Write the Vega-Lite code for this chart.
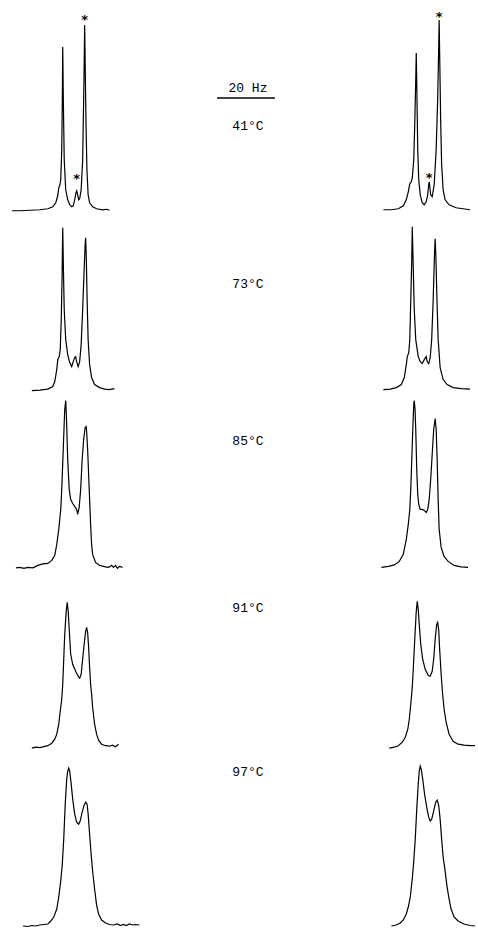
{
"$schema":"https://vega.github.io/schema/vega-lite/v6.json",
"width":478,"height":929,"autosize":{"type":"fit","contains":"padding"},"padding":0,
"background":"white",
"config":{"view":{"stroke":null}},
"datasets":{
"traces":[
{"t":"41e","x":12,"y":211},{"t":"41e","x":20,"y":211},{"t":"41e","x":30,"y":210.5},{"t":"41e","x":40,"y":210},{"t":"41e","x":48,"y":209},{"t":"41e","x":53,"y":207},{"t":"41e","x":56,"y":203},{"t":"41e","x":58,"y":196},{"t":"41e","x":59,"y":188},{"t":"41e","x":60,"y":186},{"t":"41e","x":61,"y":180},{"t":"41e","x":62,"y":150},{"t":"41e","x":62.6,"y":100},{"t":"41e","x":63,"y":47},{"t":"41e","x":63.6,"y":100},{"t":"41e","x":64.5,"y":160},{"t":"41e","x":66,"y":190},{"t":"41e","x":68,"y":200},{"t":"41e","x":70,"y":205},{"t":"41e","x":72,"y":207},{"t":"41e","x":73.5,"y":206},{"t":"41e","x":75,"y":200},{"t":"41e","x":76.3,"y":193},{"t":"41e","x":77,"y":191},{"t":"41e","x":77.8,"y":194},{"t":"41e","x":79,"y":200},{"t":"41e","x":80,"y":199},{"t":"41e","x":81.5,"y":190},{"t":"41e","x":83,"y":160},{"t":"41e","x":84,"y":100},{"t":"41e","x":84.6,"y":60},{"t":"41e","x":85,"y":25},{"t":"41e","x":85.5,"y":60},{"t":"41e","x":86.3,"y":120},{"t":"41e","x":87.3,"y":170},{"t":"41e","x":88.5,"y":195},{"t":"41e","x":90,"y":203},{"t":"41e","x":93,"y":207},{"t":"41e","x":97,"y":209},{"t":"41e","x":103,"y":210},{"t":"41e","x":107,"y":209.5},{"t":"41e","x":110,"y":210.5},
{"t":"41s","x":385,"y":210},{"t":"41s","x":393,"y":210},{"t":"41s","x":400,"y":209},{"t":"41s","x":405,"y":206},{"t":"41s","x":408,"y":200},{"t":"41s","x":410,"y":192},{"t":"41s","x":411.5,"y":184},{"t":"41s","x":413,"y":182},{"t":"41s","x":414,"y":178},{"t":"41s","x":415.5,"y":160},{"t":"41s","x":416.6,"y":120},{"t":"41s","x":417.5,"y":80},{"t":"41s","x":418,"y":53},{"t":"41s","x":418.6,"y":90},{"t":"41s","x":419.5,"y":150},{"t":"41s","x":420.5,"y":180},{"t":"41s","x":422,"y":195},{"t":"41s","x":424,"y":203},{"t":"41s","x":426,"y":205},{"t":"41s","x":428,"y":202},{"t":"41s","x":429.5,"y":195},{"t":"41s","x":430.5,"y":185},{"t":"41s","x":431,"y":182},{"t":"41s","x":431.6,"y":187},{"t":"41s","x":432.5,"y":195},{"t":"41s","x":434,"y":197},{"t":"41s","x":436,"y":185},{"t":"41s","x":438,"y":150},{"t":"41s","x":439.5,"y":100},{"t":"41s","x":440.5,"y":50},{"t":"41s","x":441,"y":20},{"t":"41s","x":441.6,"y":60},{"t":"41s","x":442.5,"y":120},{"t":"41s","x":443.5,"y":165},{"t":"41s","x":445,"y":190},{"t":"41s","x":447,"y":200},{"t":"41s","x":451,"y":205},{"t":"41s","x":458,"y":208},{"t":"41s","x":465,"y":209},{"t":"41s","x":472,"y":210},
{"t":"73e","x":32,"y":391},{"t":"73e","x":40,"y":390.5},{"t":"73e","x":48,"y":389.5},{"t":"73e","x":53,"y":387},{"t":"73e","x":55,"y":382},{"t":"73e","x":57,"y":370},{"t":"73e","x":58,"y":360},{"t":"73e","x":59.5,"y":357},{"t":"73e","x":60.5,"y":350},{"t":"73e","x":61.5,"y":320},{"t":"73e","x":62.3,"y":280},{"t":"73e","x":63,"y":228},{"t":"73e","x":63.7,"y":270},{"t":"73e","x":64.5,"y":310},{"t":"73e","x":66,"y":340},{"t":"73e","x":68,"y":355},{"t":"73e","x":70,"y":363},{"t":"73e","x":72,"y":367},{"t":"73e","x":73.5,"y":362},{"t":"73e","x":75,"y":358},{"t":"73e","x":76,"y":357},{"t":"73e","x":77,"y":362},{"t":"73e","x":78.5,"y":367},{"t":"73e","x":80,"y":362},{"t":"73e","x":81.5,"y":345},{"t":"73e","x":83,"y":310},{"t":"73e","x":84.5,"y":270},{"t":"73e","x":85.5,"y":245},{"t":"73e","x":86,"y":238},{"t":"73e","x":86.6,"y":255},{"t":"73e","x":87.5,"y":300},{"t":"73e","x":88.5,"y":340},{"t":"73e","x":90,"y":365},{"t":"73e","x":92,"y":378},{"t":"73e","x":95,"y":385},{"t":"73e","x":100,"y":388},{"t":"73e","x":105,"y":389.5},{"t":"73e","x":110,"y":390},{"t":"73e","x":115,"y":389},
{"t":"73s","x":385,"y":390},{"t":"73s","x":392,"y":389.5},{"t":"73s","x":398,"y":388},{"t":"73s","x":403,"y":385},{"t":"73s","x":406,"y":378},{"t":"73s","x":408,"y":365},{"t":"73s","x":409,"y":357},{"t":"73s","x":410.5,"y":353},{"t":"73s","x":411.5,"y":340},{"t":"73s","x":412.5,"y":300},{"t":"73s","x":413.5,"y":260},{"t":"73s","x":414,"y":227},{"t":"73s","x":414.8,"y":260},{"t":"73s","x":416,"y":310},{"t":"73s","x":417.5,"y":340},{"t":"73s","x":420,"y":357},{"t":"73s","x":422,"y":362},{"t":"73s","x":424,"y":364},{"t":"73s","x":426,"y":360},{"t":"73s","x":428,"y":357},{"t":"73s","x":429,"y":362},{"t":"73s","x":430.5,"y":364},{"t":"73s","x":432,"y":358},{"t":"73s","x":433.5,"y":340},{"t":"73s","x":435,"y":300},{"t":"73s","x":436.3,"y":255},{"t":"73s","x":437,"y":239},{"t":"73s","x":437.8,"y":260},{"t":"73s","x":438.8,"y":300},{"t":"73s","x":440,"y":340},{"t":"73s","x":442,"y":368},{"t":"73s","x":445,"y":380},{"t":"73s","x":449,"y":385},{"t":"73s","x":455,"y":388},{"t":"73s","x":463,"y":389},{"t":"73s","x":472,"y":389.5},
{"t":"85e","x":16,"y":568.5},{"t":"85e","x":20,"y":568},{"t":"85e","x":24,"y":569},{"t":"85e","x":28,"y":568},{"t":"85e","x":33,"y":568.5},{"t":"85e","x":38,"y":566},{"t":"85e","x":43,"y":564.5},{"t":"85e","x":48,"y":564},{"t":"85e","x":52,"y":561},{"t":"85e","x":55,"y":556},{"t":"85e","x":57,"y":545},{"t":"85e","x":59,"y":530},{"t":"85e","x":60,"y":520},{"t":"85e","x":61,"y":510},{"t":"85e","x":62,"y":490},{"t":"85e","x":63.5,"y":450},{"t":"85e","x":65,"y":410},{"t":"85e","x":66,"y":401},{"t":"85e","x":66.8,"y":420},{"t":"85e","x":68,"y":460},{"t":"85e","x":69.5,"y":490},{"t":"85e","x":71,"y":500},{"t":"85e","x":73,"y":504},{"t":"85e","x":75,"y":507},{"t":"85e","x":77,"y":510},{"t":"85e","x":78,"y":515},{"t":"85e","x":79.5,"y":508},{"t":"85e","x":81,"y":490},{"t":"85e","x":82.5,"y":460},{"t":"85e","x":84,"y":440},{"t":"85e","x":85.5,"y":428},{"t":"85e","x":86.5,"y":427},{"t":"85e","x":87,"y":432},{"t":"85e","x":88,"y":450},{"t":"85e","x":89,"y":475},{"t":"85e","x":90,"y":500},{"t":"85e","x":91,"y":525},{"t":"85e","x":92,"y":545},{"t":"85e","x":93,"y":555},{"t":"85e","x":96,"y":563},{"t":"85e","x":100,"y":566},{"t":"85e","x":104,"y":567},{"t":"85e","x":108,"y":568},{"t":"85e","x":110,"y":567.5},{"t":"85e","x":112,"y":566},{"t":"85e","x":114,"y":568},{"t":"85e","x":116,"y":566},{"t":"85e","x":118,"y":569},{"t":"85e","x":120,"y":567},{"t":"85e","x":123,"y":568},
{"t":"85s","x":383,"y":568},{"t":"85s","x":390,"y":567},{"t":"85s","x":396,"y":565.5},{"t":"85s","x":401,"y":562},{"t":"85s","x":405,"y":555},{"t":"85s","x":408,"y":540},{"t":"85s","x":410,"y":525},{"t":"85s","x":411.5,"y":510},{"t":"85s","x":412.5,"y":490},{"t":"85s","x":413.5,"y":460},{"t":"85s","x":414.5,"y":430},{"t":"85s","x":415.5,"y":405},{"t":"85s","x":416,"y":401},{"t":"85s","x":416.8,"y":410},{"t":"85s","x":417.5,"y":430},{"t":"85s","x":418.5,"y":470},{"t":"85s","x":419.5,"y":495},{"t":"85s","x":420.5,"y":505},{"t":"85s","x":422,"y":510},{"t":"85s","x":424,"y":510},{"t":"85s","x":426,"y":511},{"t":"85s","x":428,"y":513},{"t":"85s","x":429.5,"y":510},{"t":"85s","x":431,"y":500},{"t":"85s","x":432.5,"y":480},{"t":"85s","x":434,"y":455},{"t":"85s","x":435.5,"y":430},{"t":"85s","x":437,"y":419},{"t":"85s","x":438,"y":430},{"t":"85s","x":439,"y":460},{"t":"85s","x":440,"y":500},{"t":"85s","x":441,"y":530},{"t":"85s","x":443,"y":548},{"t":"85s","x":446,"y":557},{"t":"85s","x":450,"y":562},{"t":"85s","x":456,"y":566},{"t":"85s","x":463,"y":567.5},{"t":"85s","x":470,"y":568},
{"t":"91e","x":32,"y":749},{"t":"91e","x":36,"y":748},{"t":"91e","x":40,"y":748.5},{"t":"91e","x":44,"y":747.5},{"t":"91e","x":48,"y":746.5},{"t":"91e","x":52,"y":744},{"t":"91e","x":55,"y":740},{"t":"91e","x":57,"y":735},{"t":"91e","x":59,"y":725},{"t":"91e","x":60.5,"y":712},{"t":"91e","x":62,"y":700},{"t":"91e","x":63,"y":685},{"t":"91e","x":64,"y":660},{"t":"91e","x":65,"y":635},{"t":"91e","x":66.5,"y":612},{"t":"91e","x":67.5,"y":603},{"t":"91e","x":68.5,"y":612},{"t":"91e","x":69.5,"y":630},{"t":"91e","x":71,"y":655},{"t":"91e","x":73,"y":665},{"t":"91e","x":76,"y":672},{"t":"91e","x":79,"y":678},{"t":"91e","x":80,"y":679},{"t":"91e","x":81.5,"y":675},{"t":"91e","x":83,"y":660},{"t":"91e","x":84.5,"y":645},{"t":"91e","x":86,"y":632},{"t":"91e","x":87,"y":628},{"t":"91e","x":88,"y":633},{"t":"91e","x":89,"y":648},{"t":"91e","x":90,"y":668},{"t":"91e","x":91,"y":685},{"t":"91e","x":92,"y":695},{"t":"91e","x":93,"y":708},{"t":"91e","x":95,"y":725},{"t":"91e","x":97,"y":735},{"t":"91e","x":99,"y":741},{"t":"91e","x":102,"y":745},{"t":"91e","x":106,"y":746.5},{"t":"91e","x":110,"y":747},{"t":"91e","x":113,"y":746},{"t":"91e","x":116,"y":747.5},{"t":"91e","x":119,"y":745},
{"t":"91s","x":391,"y":749},{"t":"91s","x":396,"y":748},{"t":"91s","x":400,"y":746.5},{"t":"91s","x":404,"y":743},{"t":"91s","x":407,"y":738},{"t":"91s","x":409.5,"y":730},{"t":"91s","x":411,"y":720},{"t":"91s","x":412.5,"y":705},{"t":"91s","x":414,"y":688},{"t":"91s","x":415,"y":670},{"t":"91s","x":416.5,"y":640},{"t":"91s","x":418,"y":612},{"t":"91s","x":419,"y":602},{"t":"91s","x":420,"y":610},{"t":"91s","x":421,"y":625},{"t":"91s","x":422.5,"y":645},{"t":"91s","x":424.5,"y":660},{"t":"91s","x":427,"y":670},{"t":"91s","x":430,"y":676},{"t":"91s","x":432,"y":677},{"t":"91s","x":434,"y":672},{"t":"91s","x":435.5,"y":660},{"t":"91s","x":437,"y":640},{"t":"91s","x":438.5,"y":625},{"t":"91s","x":439.5,"y":623},{"t":"91s","x":440.5,"y":630},{"t":"91s","x":441.5,"y":650},{"t":"91s","x":443,"y":675},{"t":"91s","x":444.5,"y":695},{"t":"91s","x":446,"y":710},{"t":"91s","x":448,"y":723},{"t":"91s","x":451,"y":735},{"t":"91s","x":455,"y":742},{"t":"91s","x":460,"y":745},{"t":"91s","x":466,"y":746},{"t":"91s","x":472,"y":746.5},{"t":"91s","x":477,"y":746.5},
{"t":"97e","x":23,"y":927},{"t":"97e","x":28,"y":927.5},{"t":"97e","x":32,"y":926.5},{"t":"97e","x":36,"y":927},{"t":"97e","x":40,"y":926},{"t":"97e","x":44,"y":925.5},{"t":"97e","x":48,"y":925},{"t":"97e","x":51,"y":922},{"t":"97e","x":54,"y":918},{"t":"97e","x":57,"y":910},{"t":"97e","x":59,"y":898},{"t":"97e","x":61,"y":882},{"t":"97e","x":62.5,"y":866},{"t":"97e","x":64,"y":840},{"t":"97e","x":65.5,"y":805},{"t":"97e","x":67,"y":780},{"t":"97e","x":68,"y":772},{"t":"97e","x":69,"y":769},{"t":"97e","x":70,"y":772},{"t":"97e","x":71.5,"y":785},{"t":"97e","x":73,"y":800},{"t":"97e","x":75,"y":815},{"t":"97e","x":77,"y":823},{"t":"97e","x":79,"y":825},{"t":"97e","x":80.5,"y":822},{"t":"97e","x":82.5,"y":813},{"t":"97e","x":84.5,"y":806},{"t":"97e","x":86,"y":803},{"t":"97e","x":87.5,"y":805},{"t":"97e","x":88.5,"y":815},{"t":"97e","x":90,"y":835},{"t":"97e","x":91.5,"y":855},{"t":"97e","x":93,"y":872},{"t":"97e","x":95,"y":890},{"t":"97e","x":97,"y":906},{"t":"97e","x":99,"y":915},{"t":"97e","x":102,"y":921},{"t":"97e","x":106,"y":924},{"t":"97e","x":110,"y":925.5},{"t":"97e","x":114,"y":926},{"t":"97e","x":118,"y":925},{"t":"97e","x":121,"y":926.5},{"t":"97e","x":124,"y":925.5},{"t":"97e","x":127,"y":926.5},{"t":"97e","x":130,"y":925},{"t":"97e","x":133,"y":926},{"t":"97e","x":136,"y":925.5},{"t":"97e","x":140,"y":926},
{"t":"97s","x":393,"y":927},{"t":"97s","x":398,"y":926},{"t":"97s","x":402,"y":924},{"t":"97s","x":405,"y":921},{"t":"97s","x":408,"y":915},{"t":"97s","x":410,"y":908},{"t":"97s","x":412,"y":898},{"t":"97s","x":414,"y":880},{"t":"97s","x":415.5,"y":862},{"t":"97s","x":417,"y":840},{"t":"97s","x":418.5,"y":810},{"t":"97s","x":420,"y":785},{"t":"97s","x":421,"y":772},{"t":"97s","x":422,"y":767},{"t":"97s","x":423,"y":770},{"t":"97s","x":424.5,"y":780},{"t":"97s","x":426.5,"y":796},{"t":"97s","x":428.5,"y":808},{"t":"97s","x":430.5,"y":818},{"t":"97s","x":432,"y":822},{"t":"97s","x":433.5,"y":820},{"t":"97s","x":435.5,"y":812},{"t":"97s","x":437.5,"y":803},{"t":"97s","x":439,"y":801},{"t":"97s","x":440.5,"y":806},{"t":"97s","x":442,"y":820},{"t":"97s","x":443.5,"y":840},{"t":"97s","x":445,"y":858},{"t":"97s","x":447,"y":872},{"t":"97s","x":449,"y":888},{"t":"97s","x":451,"y":900},{"t":"97s","x":453,"y":910},{"t":"97s","x":456,"y":918},{"t":"97s","x":460,"y":922},{"t":"97s","x":466,"y":925},{"t":"97s","x":472,"y":926.5},{"t":"97s","x":477,"y":927}
],
"labels":[
{"x":249,"y":88,"label":"20 Hz"},
{"x":249,"y":126,"label":"41°C"},
{"x":249,"y":284,"label":"73°C"},
{"x":249,"y":441,"label":"85°C"},
{"x":249,"y":609,"label":"91°C"},
{"x":249,"y":773,"label":"97°C"}
],
"stars":[
{"x":85,"y":17},{"x":77,"y":176},{"x":441,"y":14},{"x":431,"y":175}
],
"bar":[{"x":218,"x2":276,"y":98}]
},
"layer":[
{"data":{"name":"traces"},
 "mark":{"type":"line","color":"black","strokeWidth":1.2},
 "encoding":{
  "x":{"field":"x","type":"quantitative","scale":{"domain":[0,478],"nice":false,"zero":false},"axis":null},
  "y":{"field":"y","type":"quantitative","scale":{"domain":[0,929],"reverse":true,"nice":false,"zero":false},"axis":null},
  "detail":{"field":"t","type":"nominal"}}},
{"data":{"name":"bar"},
 "mark":{"type":"rule","color":"black","strokeWidth":1.5},
 "encoding":{
  "x":{"field":"x","type":"quantitative"},
  "x2":{"field":"x2"},
  "y":{"field":"y","type":"quantitative"}}},
{"data":{"name":"labels"},
 "mark":{"type":"text","font":"Liberation Mono","fontSize":13,"color":"black","align":"center","baseline":"middle"},
 "encoding":{
  "x":{"field":"x","type":"quantitative"},
  "y":{"field":"y","type":"quantitative"},
  "text":{"field":"label"}}},
{"data":{"name":"stars"},
 "mark":{"type":"text","font":"DejaVu Sans","fontSize":13,"fontWeight":"bold","color":"black","align":"center","baseline":"middle","dy":3},
 "encoding":{
  "x":{"field":"x","type":"quantitative"},
  "y":{"field":"y","type":"quantitative"},
  "text":{"value":"*"}}}
]
}
